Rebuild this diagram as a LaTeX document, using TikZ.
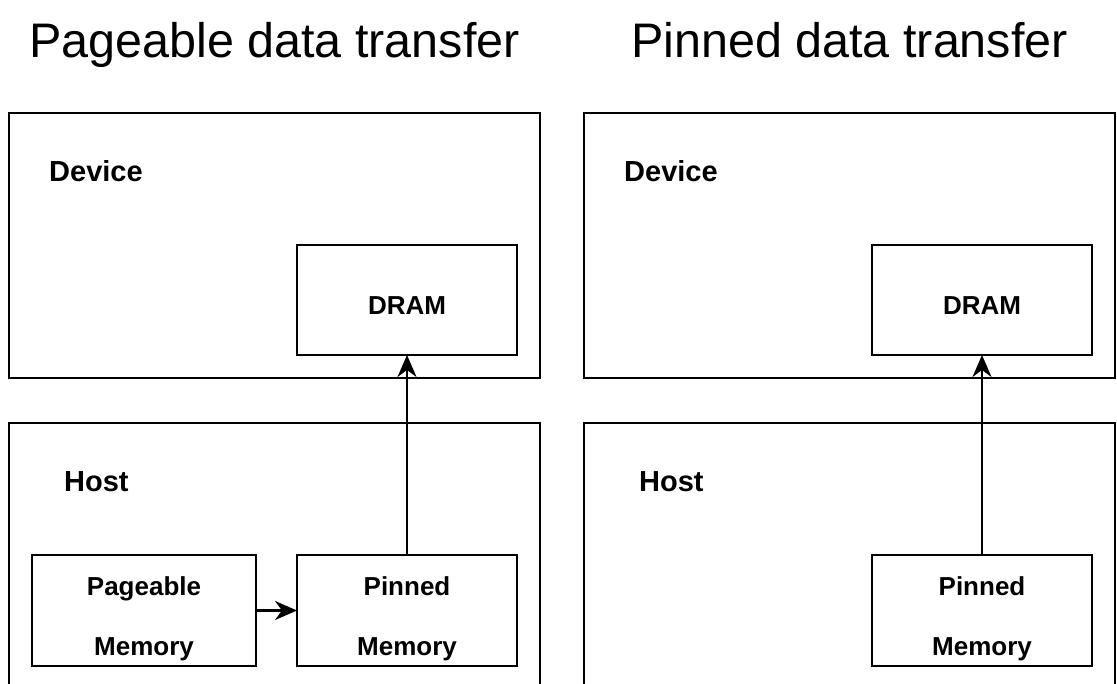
\documentclass[tikz,border=0pt]{standalone}
\usepackage{fontspec}
\setmainfont{Liberation Sans}
\usetikzlibrary{arrows.meta}
\begin{document}
\begin{tikzpicture}[x=1pt,y=-1pt,
  frame/.style={draw, line width=2.2pt, inner sep=0pt, outer sep=0pt},
  heading/.style={font=\fontsize{48.5}{58}\selectfont, anchor=base, inner sep=0pt},
  zone/.style={font=\bfseries\fontsize{29}{34}\selectfont, anchor=base west, inner sep=0pt},
  part/.style={font=\bfseries\fontsize{26}{30}\selectfont, anchor=base, inner sep=0pt},
  flow/.style={draw, line width=2.2pt, -{Stealth[length=22pt,width=19pt,inset=7pt]}}]
\clip (0,0) rectangle (1117,684);
\fill[white] (0,0) rectangle (1117,684);

% ---- left panel: pageable transfer ----
\node[heading] (t1) at (274.5,58) {Pageable data transfer};
\node[frame, minimum width=531pt, minimum height=265pt] (dev1) at (274.5,245.5) {};
\node[zone] (devl1) at (49,182) {Device};
\node[frame, minimum width=220pt, minimum height=110pt] (dram1) at (407,300) {};
\node[part] (draml1) at (407,315) {DRAM};
\node[frame, minimum width=531pt, minimum height=277pt] (host1) at (274.5,561.5) {};
\node[zone] (hostl1) at (64,491.5) {Host};
\node[frame, minimum width=224pt, minimum height=111pt] (page1) at (144,610.5) {};
\node[part] (pagea1) at (144,595) {Pageable};
\node[part] (pageb1) at (144,655) {Memory};
\node[frame, minimum width=220pt, minimum height=111pt] (pin1) at (407,610.5) {};
\node[part] (pina1) at (407,595) {Pinned};
\node[part] (pinb1) at (407,655) {Memory};
\draw[flow] (page1.east) -- (pin1.west);
\draw[flow] (pin1.north) -- (dram1.south);

% ---- right panel: pinned transfer ----
\node[heading] (t2) at (849.5,58) {Pinned data transfer};
\node[frame, minimum width=531pt, minimum height=265pt] (dev2) at (849.5,245.5) {};
\node[zone] (devl2) at (624,182) {Device};
\node[frame, minimum width=220pt, minimum height=110pt] (dram2) at (982,300) {};
\node[part] (draml2) at (982,315) {DRAM};
\node[frame, minimum width=531pt, minimum height=277pt] (host2) at (849.5,561.5) {};
\node[zone] (hostl2) at (639,491.5) {Host};
\node[frame, minimum width=220pt, minimum height=111pt] (pin2) at (982,610.5) {};
\node[part] (pina2) at (982,595) {Pinned};
\node[part] (pinb2) at (982,655) {Memory};
\draw[flow] (pin2.north) -- (dram2.south);
\end{tikzpicture}
\end{document}
